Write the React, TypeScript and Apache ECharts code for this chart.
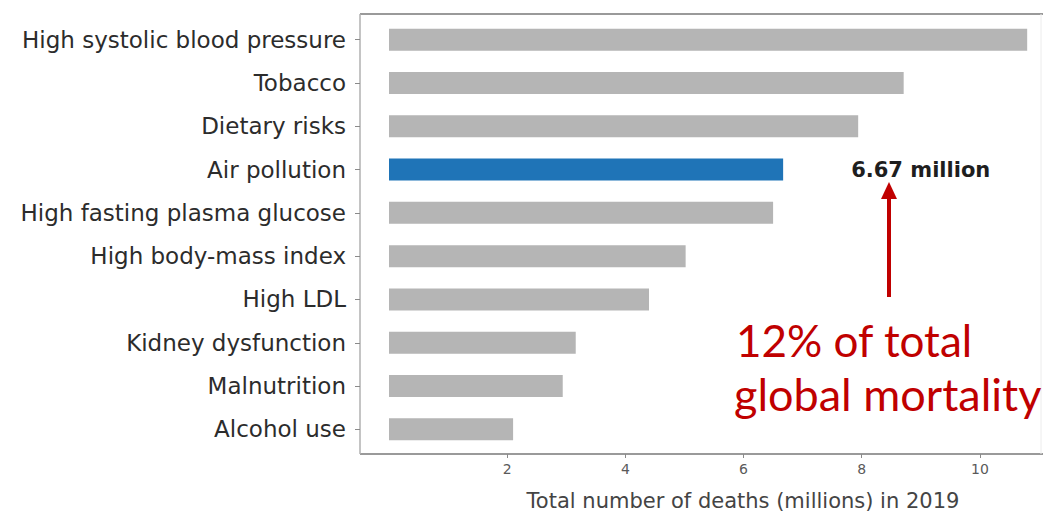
import React, { useEffect, useRef } from "react";
import * as echarts from "echarts";

// Leading risk factors by attributable deaths, 2019 (millions)
const riskFactors = [
  "High systolic blood pressure",
  "Tobacco",
  "Dietary risks",
  "Air pollution",
  "High fasting plasma glucose",
  "High body-mass index",
  "High LDL",
  "Kidney dysfunction",
  "Malnutrition",
  "Alcohol use",
];
const deathsMillions = [10.8, 8.71, 7.94, 6.67, 6.5, 5.02, 4.4, 3.16, 2.94, 2.1];
const highlighted = "Air pollution";
const xTicks = [0, 2, 4, 6, 8, 10];
const xMax = 11;
const xAxisTitle = "Total number of deaths (millions) in 2019";
const calloutLines = ["12% of total", "global mortality"];

const GRAY = "#b5b5b5";
const BLUE = "#1f74b7";
const RED = "#c00000";
const FRAME = "#9a9a9a";
const TICK = "#8a8a8a";

export default function App() {
  const ref = useRef<HTMLDivElement>(null);

  useEffect(() => {
    if (!ref.current) return;
    const chart = echarts.init(ref.current, null, { renderer: "svg" });

    const data = riskFactors.map((name, i) => {
      const isHi = name === highlighted;
      return {
        value: deathsMillions[i],
        itemStyle: { color: isHi ? BLUE : GRAY },
        label: isHi
          ? {
              show: true,
              position: "right",
              distance: 68,
              formatter: (p: any) => `${p.value} million`,
              fontFamily: "DejaVu Sans",
              fontWeight: "bold",
              fontSize: 21,
              color: "#1e1e1e",
            }
          : { show: false },
      };
    });

    const hiddenAxis = {
      axisLine: { show: false },
      axisTick: { show: false },
      axisLabel: { show: false },
      splitLine: { show: false },
    };

    chart.setOption({
      animation: false,
      backgroundColor: "#ffffff",
      grid: [
        // bars
        { left: 389, width: 650, top: 18, bottom: 68 },
        // bottom axis, sitting on the frame
        { left: 389, width: 650, top: 14, bottom: 65 },
        // category labels, sitting on the left frame edge
        { left: 360, width: 650, top: 18, bottom: 68 },
      ],
      xAxis: [
        { type: "value", gridIndex: 0, min: xTicks[0], max: xMax, interval: 2, ...hiddenAxis },
        {
          type: "value",
          gridIndex: 1,
          min: xTicks[0],
          max: xMax,
          interval: xTicks[1] - xTicks[0],
          axisLine: { show: false },
          axisTick: { show: true, length: 4, lineStyle: { color: TICK } },
          splitLine: { show: false },
          axisLabel: {
            showMinLabel: false,
            showMaxLabel: false,
            margin: 8,
            fontFamily: "DejaVu Sans",
            fontSize: 14,
            color: "#5a5a5a",
          },
          name: xAxisTitle,
          nameLocation: "middle",
          nameGap: 36,
          nameTextStyle: {
            fontFamily: "DejaVu Sans",
            fontSize: 21,
            color: "#444",
            padding: [0, 0, 0, 58],
          },
        },
        { type: "value", gridIndex: 2, min: 0, max: 1, ...hiddenAxis },
      ],
      yAxis: [
        { type: "category", gridIndex: 0, data: riskFactors, inverse: true, ...hiddenAxis },
        { type: "category", gridIndex: 1, data: riskFactors, inverse: true, ...hiddenAxis },
        {
          type: "category",
          gridIndex: 2,
          data: riskFactors,
          inverse: true,
          axisLine: { show: false },
          axisTick: { show: true, alignWithLabel: true, length: 5, lineStyle: { color: TICK } },
          splitLine: { show: false },
          axisLabel: {
            margin: 14,
            fontFamily: "DejaVu Sans",
            fontSize: 23,
            color: "#2c2c2c",
          },
        },
      ],
      series: [
        {
          type: "bar",
          xAxisIndex: 0,
          yAxisIndex: 0,
          data,
          barWidth: 22,
        },
      ],
      graphic: [
        // plot frame
        { type: "line", shape: { x1: 360, y1: 14, x2: 1051, y2: 14 }, style: { stroke: FRAME, lineWidth: 2 } },
        { type: "line", shape: { x1: 360, y1: 454, x2: 1051, y2: 454 }, style: { stroke: FRAME, lineWidth: 2 } },
        { type: "line", shape: { x1: 360, y1: 14, x2: 360, y2: 454 }, style: { stroke: "#b0b0b0", lineWidth: 1.5 } },
        { type: "line", shape: { x1: 1041, y1: 14, x2: 1041, y2: 454 }, style: { stroke: "#ececec", lineWidth: 1 } },
        // callout arrow
        { type: "line", shape: { x1: 889, y1: 297, x2: 889, y2: 196 }, style: { stroke: RED, lineWidth: 4 } },
        { type: "polygon", shape: { points: [[889, 182], [881, 199], [897, 199]] }, style: { fill: RED } },
        // callout text
        {
          type: "text",
          x: 736,
          y: 340,
          style: {
            text: calloutLines[0],
            fontFamily: "Lato",
            fontSize: 44,
            fill: RED,
            verticalAlign: "middle",
          },
        },
        {
          type: "text",
          x: 734,
          y: 394,
          style: {
            text: calloutLines[1],
            fontFamily: "Lato",
            fontSize: 45,
            fill: RED,
            verticalAlign: "middle",
          },
        },
      ],
    });

    return () => chart.dispose();
  }, []);

  return <div ref={ref} style={{ width: 1051, height: 519, margin: -8 }} />;
}
